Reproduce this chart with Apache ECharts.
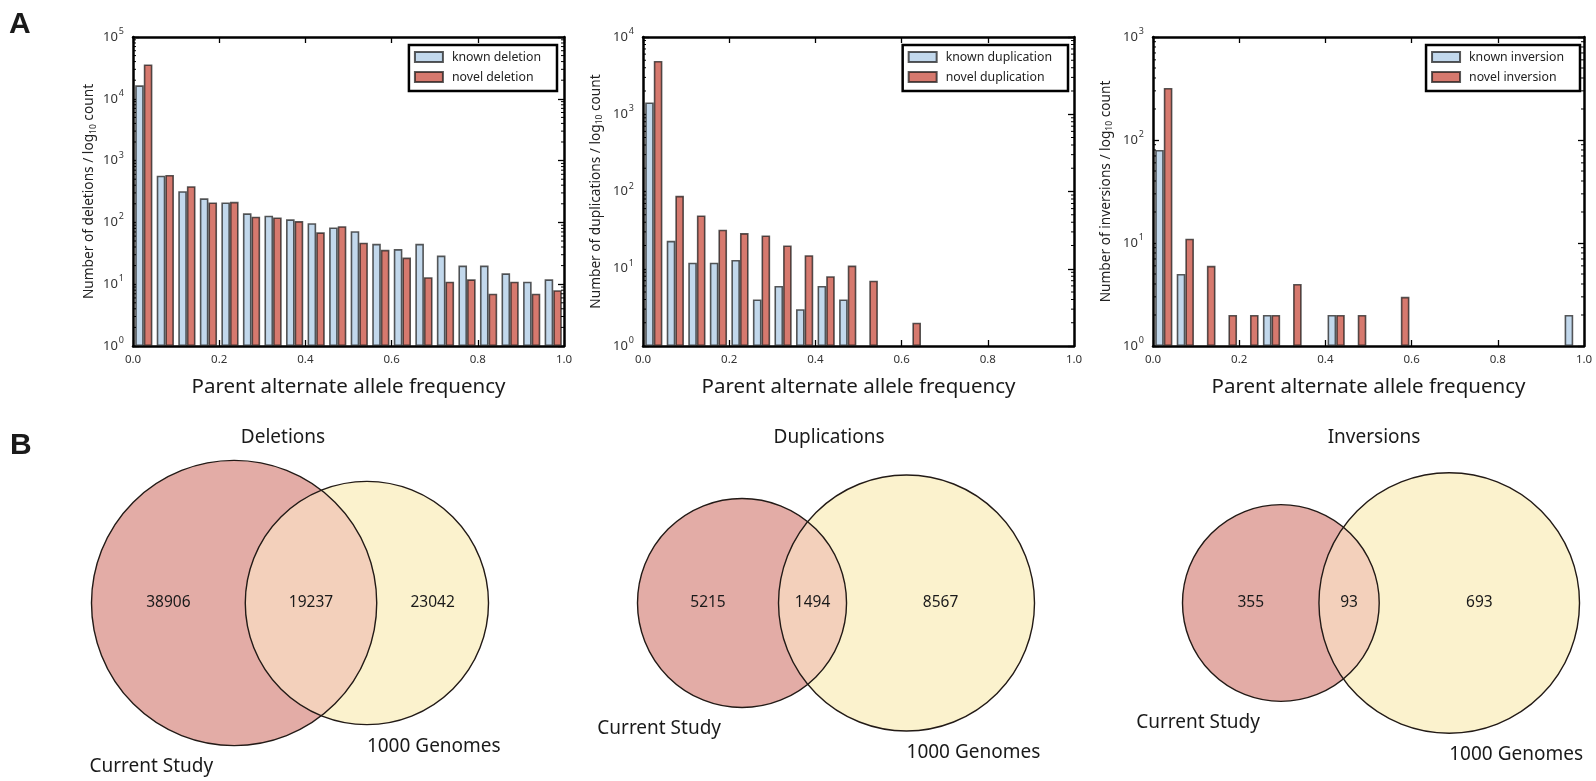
<!DOCTYPE html>
<html>
<head>
<meta charset="utf-8">
<script src="https://cdn.jsdelivr.net/npm/echarts@6/dist/echarts.min.js"></script>
<style>
  html, body { margin: 0; padding: 0; background: #fff; }
  #chart { width: 1596px; height: 781px; }
</style>
</head>
<body>
<div id="chart"></div>
<script>
// ---- Panel A: parent alternate allele frequency histograms (20 bins of width 0.05) ----
const binStarts = ['0.00', '0.05', '0.10', '0.15', '0.20', '0.25', '0.30', '0.35', '0.40', '0.45',
                   '0.50', '0.55', '0.60', '0.65', '0.70', '0.75', '0.80', '0.85', '0.90', '0.95'];

const deletionKnown = [16500, 570, 320, 245, 210, 140, 128, 112, 97, 83, 72, 45, 37, 45, 29, 20, 20, 15, 11, 12];
const deletionNovel = [36000, 585, 385, 210, 215, 124, 120, 105, 69, 87, 47, 36, 27, 13, 11, 12, 7, 11, 7, 8];

const duplicationKnown = [1420, 23, 12, 12, 13, 4, 6, 3, 6, 4, 0, 0, 0, 0, 0, 0, 0, 0, 0, 0];
const duplicationNovel = [4900, 88, 49, 32, 29, 27, 20, 15, 8, 11, 7, 0, 2, 0, 0, 0, 0, 0, 0, 0];

const inversionKnown = [80, 5, 0, 0, 0, 2, 0, 0, 2, 0, 0, 0, 0, 0, 0, 0, 0, 0, 0, 2];
const inversionNovel = [320, 11, 6, 2, 2, 2, 4, 0, 2, 2, 0, 3, 0, 0, 0, 0, 0, 0, 0, 0];

const histogramSeriesNames = [
  ['known deletion', 'novel deletion'],
  ['known duplication', 'novel duplication'],
  ['known inversion', 'novel inversion']
];
const countNouns = ['deletions', 'duplications', 'inversions'];
const yTopExponents = [5, 4, 3];           // y axes run from 10^0 to 10^n
const xTickValues = [0, 0.2, 0.4, 0.6, 0.8, 1.0];
const xAxisTitle = 'Parent alternate allele frequency';

// ---- Panel B: overlap with 1000 Genomes ----
const vennTitles = ['Deletions', 'Duplications', 'Inversions'];
const vennStudyOnly = [38906, 5215, 355];
const vennShared = [19237, 1494, 93];
const vennGenomesOnly = [23042, 8567, 693];
const vennSetNames = ['Current Study', '1000 Genomes'];

// ---- styling / layout ----
const FONT = '"Noto Sans", "Open Sans", sans-serif';
const BLUE = '#c2d8ec';
const RED = '#d6796e';
const EDGE = 'rgba(25,25,25,0.72)';
const PLOT_LEFT = [133, 643, 1153];
const PLOT_TOP = 37, PLOT_W = 431, PLOT_H = 309;
const LEGEND_RIGHT = [1039, 528, 16];
const Y_NAME_GAP = [35, 38.5, 38.5];
const VENN_MID_X = [290, 836, 1381];
const VENN_MID_Y = 603;
const VENN_WIDTH = 397;
const VENN_TITLE_Y = 438;

const knownSets = [deletionKnown, duplicationKnown, inversionKnown];
const novelSets = [deletionNovel, duplicationNovel, inversionNovel];

const chart = echarts.init(document.getElementById('chart'), null, { renderer: 'canvas' });

const grids = [], xAxes = [], yAxes = [], series = [], legends = [];

const frameLine = { show: true, onZero: false, lineStyle: { color: '#000', width: 2.5 } };
const majorTick = { show: true, inside: true, length: 6, lineStyle: { color: '#000', width: 1.3 } };

for (let i = 0; i < 3; i++) {
  grids.push({ left: PLOT_LEFT[i], top: PLOT_TOP, width: PLOT_W, height: PLOT_H, containLabel: false, outerBoundsMode: 'none' });

  // hidden category axis that places the histogram bars bin by bin
  xAxes.push({ gridIndex: i, type: 'category', data: binStarts, show: false, boundaryGap: true });
  // frequency axis with labels (bottom) and a tick-only copy on top
  xAxes.push({
    gridIndex: i, type: 'value', position: 'bottom', min: xTickValues[0], max: xTickValues[xTickValues.length - 1],
    interval: xTickValues[1] - xTickValues[0],
    axisLine: frameLine, axisTick: majorTick, splitLine: { show: false },
    axisLabel: { margin: 8, fontSize: 11.5, color: '#333', fontFamily: FONT, formatter: v => v.toFixed(1) },
    name: xAxisTitle, nameLocation: 'middle', nameGap: 31,
    nameTextStyle: { fontSize: 20.5, color: '#1a1a1a', fontFamily: FONT }
  });
  xAxes.push({
    gridIndex: i, type: 'value', position: 'top', min: xTickValues[0], max: xTickValues[xTickValues.length - 1],
    interval: xTickValues[1] - xTickValues[0],
    axisLine: frameLine, axisTick: majorTick, splitLine: { show: false }, axisLabel: { show: false }
  });

  const yMax = Math.pow(10, yTopExponents[i]);
  yAxes.push({
    gridIndex: i, type: 'log', logBase: 10, min: 1, max: yMax, position: 'left',
    axisLine: frameLine, axisTick: majorTick, splitLine: { show: false }, minorTick: { show: false },
    axisLabel: {
      margin: 9, fontFamily: FONT,
      formatter: v => '{b|10}{e|' + Math.round(Math.log10(v)) + '}',
      rich: {
        b: { fontSize: 13, lineHeight: 20, color: '#333', fontFamily: FONT },
        e: { fontSize: 9, lineHeight: 9, color: '#333', verticalAlign: 'top', fontFamily: FONT, padding: [0, 0, 0, 1] }
      }
    },
    name: '{a|Number of ' + countNouns[i] + ' / log}{s|10}{a| count}',
    nameLocation: 'middle', nameGap: Y_NAME_GAP[i],
    nameTextStyle: {
      fontFamily: FONT,
      rich: {
        a: { fontSize: 13.7, lineHeight: 17, color: '#222', fontFamily: FONT },
        s: { fontSize: 8.5, lineHeight: 8, color: '#222', verticalAlign: 'bottom', fontFamily: FONT }
      }
    }
  });
  yAxes.push({
    gridIndex: i, type: 'log', logBase: 10, min: 1, max: yMax, position: 'right',
    axisLine: frameLine, axisTick: majorTick, splitLine: { show: false }, axisLabel: { show: false }
  });

  const toBar = arr => arr.map(v => (v > 0 ? v : '-'));
  const barCommon = {
    type: 'bar', xAxisIndex: 3 * i, yAxisIndex: 2 * i,
    barGap: '0%', barCategoryGap: '20%', silent: true,
    emphasis: { disabled: true }
  };
  series.push(Object.assign({}, barCommon, {
    name: histogramSeriesNames[i][0], data: toBar(knownSets[i]),
    itemStyle: { color: BLUE, borderColor: EDGE, borderWidth: 1.6 }
  }));
  series.push(Object.assign({}, barCommon, {
    name: histogramSeriesNames[i][1], data: toBar(novelSets[i]),
    itemStyle: { color: RED, borderColor: EDGE, borderWidth: 1.6 }
  }));

  // log-axis minor ticks (2..9 within each decade) on the left and right frame
  const minorValues = [];
  for (let e = 0; e < yTopExponents[i]; e++) {
    for (let m = 2; m <= 9; m++) minorValues.push([0.5, m * Math.pow(10, e)]);
  }
  series.push({
    type: 'custom', xAxisIndex: 3 * i + 1, yAxisIndex: 2 * i, silent: true, clip: false, z: 5,
    data: minorValues,
    renderItem: (params, api) => {
      const v = api.value(1);
      const pL = api.coord([0, v]);
      const pR = api.coord([1, v]);
      const st = { stroke: '#000', lineWidth: 1 };
      return {
        type: 'group', children: [
          { type: 'line', shape: { x1: pL[0], y1: pL[1], x2: pL[0] + 3, y2: pL[1] }, style: st },
          { type: 'line', shape: { x1: pR[0], y1: pR[1], x2: pR[0] - 3, y2: pR[1] }, style: st }
        ]
      };
    }
  });

  legends.push({
    data: histogramSeriesNames[i], orient: 'vertical', right: LEGEND_RIGHT[i], top: 45,
    icon: 'rect', itemWidth: 28, itemHeight: 10, itemGap: 8,
    padding: [6, 16, 8, 5], backgroundColor: '#fff', borderColor: '#000', borderWidth: 2.5,
    selectedMode: false,
    textStyle: { fontSize: 12.3, color: '#222', fontFamily: FONT, padding: [0, 0, 0, 4] }
  });
}

// ---- Venn layout: circle areas proportional to set sizes, lens area to the overlap ----
function lensArea(r1, r2, d) {
  if (d >= r1 + r2) return 0;
  if (d <= Math.abs(r1 - r2)) return Math.PI * Math.min(r1, r2) ** 2;
  const a1 = Math.acos((d * d + r1 * r1 - r2 * r2) / (2 * d * r1));
  const a2 = Math.acos((d * d + r2 * r2 - r1 * r1) / (2 * d * r2));
  return r1 * r1 * a1 + r2 * r2 * a2 -
    0.5 * Math.sqrt((-d + r1 + r2) * (d + r1 - r2) * (d - r1 + r2) * (d + r1 + r2));
}
function solveDistance(r1, r2, target) {
  let lo = Math.abs(r1 - r2), hi = r1 + r2;
  for (let k = 0; k < 80; k++) {
    const mid = (lo + hi) / 2;
    if (lensArea(r1, r2, mid) > target) lo = mid; else hi = mid;
  }
  return (lo + hi) / 2;
}
function vennLayout(i) {
  const a = vennStudyOnly[i] + vennShared[i];
  const b = vennGenomesOnly[i] + vennShared[i];
  const r1u = Math.sqrt(a / Math.PI), r2u = Math.sqrt(b / Math.PI);
  const du = solveDistance(r1u, r2u, vennShared[i]);
  const k = VENN_WIDTH / (r1u + du + r2u);
  const r1 = r1u * k, r2 = r2u * k, d = du * k;
  const left = VENN_MID_X[i] - VENN_WIDTH / 2;
  const c1 = left + r1, c2 = c1 + d;
  return { r1, r2, d, c1, c2 };
}

const VENN_RED = '#e3aca6', VENN_YELLOW = '#fbf2cd', VENN_MIX = '#f3d0bb', VENN_STROKE = '#221a16';

grids.push({ left: 0, top: 0, width: 1596, height: 781, show: false, containLabel: false, outerBoundsMode: 'none' });
xAxes.push({ gridIndex: 3, type: 'value', min: 0, max: 1596, show: false });
yAxes.push({ gridIndex: 3, type: 'value', min: 0, max: 781, inverse: true, show: false });

series.push({
  type: 'custom', xAxisIndex: 9, yAxisIndex: 6, silent: true, clip: false,
  data: vennTitles.map((t, i) => [i, 0]),
  renderItem: (params, api) => {
    const i = api.value(0);
    const L = vennLayout(i);
    const p1 = api.coord([L.c1, VENN_MID_Y]);
    const p2 = api.coord([L.c2, VENN_MID_Y]);
    const r1 = api.size([L.r1, 0])[0];
    const r2 = api.size([L.r2, 0])[0];
    const d = p2[0] - p1[0];
    const cy = p1[1];
    // lens corners
    const xo = (d * d + r1 * r1 - r2 * r2) / (2 * d);
    const h = Math.sqrt(Math.max(0, r1 * r1 - xo * xo));
    const lx = p1[0] + xo;
    const large1 = xo < 0 ? 1 : 0;
    const large2 = xo > d ? 1 : 0;
    const lensPath = 'M' + lx + ' ' + (cy - h) +
      ' A' + r1 + ' ' + r1 + ' 0 ' + large1 + ' 1 ' + lx + ' ' + (cy + h) +
      ' A' + r2 + ' ' + r2 + ' 0 ' + large2 + ' 1 ' + lx + ' ' + (cy - h) + ' Z';

    const txt = (text, x, y, size, align) => ({
      type: 'text', z2: 10,
      style: { text, x, y, fill: '#1a1a1a', align: align || 'center', verticalAlign: 'middle', font: size + 'px ' + FONT }
    });
    const studyLeft = p1[0] - r1, genomesLeft = p2[0] - r2, studyRight = p1[0] + r1, genomesRight = p2[0] + r2;
    const titleX = api.coord([VENN_MID_X[i], 0])[0] - 7;
    const titleY = api.coord([0, VENN_TITLE_Y])[1];

    return {
      type: 'group', children: [
        { type: 'circle', shape: { cx: p1[0], cy, r: r1 }, style: { fill: VENN_RED } },
        { type: 'circle', shape: { cx: p2[0], cy, r: r2 }, style: { fill: VENN_YELLOW } },
        { type: 'path', shape: { pathData: lensPath }, style: { fill: VENN_MIX } },
        { type: 'circle', shape: { cx: p1[0], cy, r: r1 }, style: { fill: null, stroke: VENN_STROKE, lineWidth: 1.4 } },
        { type: 'circle', shape: { cx: p2[0], cy, r: r2 }, style: { fill: null, stroke: VENN_STROKE, lineWidth: 1.4 } },
        txt(String(vennStudyOnly[i]), (studyLeft + genomesLeft) / 2, cy, 15.5),
        txt(String(vennShared[i]), (genomesLeft + studyRight) / 2, cy, 15.5),
        txt(String(vennGenomesOnly[i]), (studyRight + genomesRight) / 2, cy, 15.5),
        txt(vennTitles[i], titleX, titleY, 19),
        txt(vennSetNames[0], p1[0] - 21, cy + r1 + 21, 19, 'right'),
        txt(vennSetNames[1], p2[0], cy + r2 + 21.5, 19, 'left')
      ]
    };
  }
});

chart.setOption({
  backgroundColor: '#fff',
  animation: false,
  textStyle: { fontFamily: FONT },
  grid: grids,
  xAxis: xAxes,
  yAxis: yAxes,
  legend: legends,
  series: series,
  graphic: [
    { type: 'text', x: 9, y: 25, style: { text: 'A', font: 'bold 30px "Liberation Sans", Arial, sans-serif', fill: '#1a1a1a', verticalAlign: 'middle' } },
    { type: 'text', x: 10, y: 446, style: { text: 'B', font: 'bold 30px "Liberation Sans", Arial, sans-serif', fill: '#1a1a1a', verticalAlign: 'middle' } }
  ]
});
</script>
</body>
</html>
